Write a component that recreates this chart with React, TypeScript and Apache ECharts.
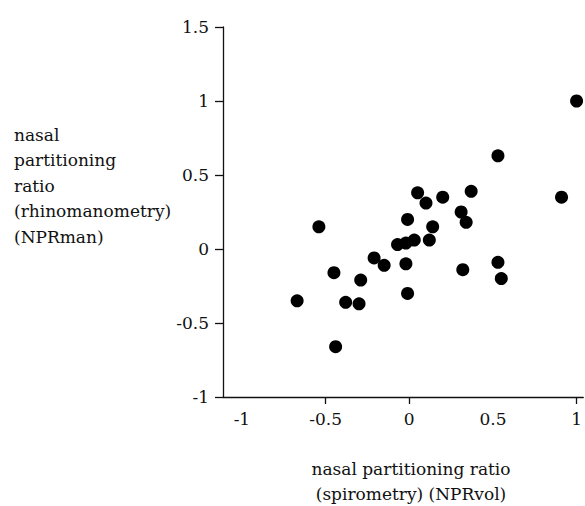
import React, { useEffect, useRef } from "react";
import * as echarts from "echarts";

const npRvol: number[] = [1.0, 0.53, 0.91, 0.05, 0.10, 0.20, 0.37, 0.31, 0.34, -0.01, 0.14, -0.54, -0.07, -0.02, 0.03, 0.12, -0.21, -0.15, -0.02, 0.32, 0.53, 0.55, -0.45, -0.29, -0.67, -0.38, -0.30, -0.01, -0.44];
const npRman: number[] = [1.0, 0.63, 0.35, 0.38, 0.31, 0.35, 0.39, 0.25, 0.18, 0.20, 0.15, 0.15, 0.03, 0.04, 0.06, 0.06, -0.06, -0.11, -0.10, -0.14, -0.09, -0.20, -0.16, -0.21, -0.35, -0.36, -0.37, -0.30, -0.66];

const xLabelValues: number[] = [-1, -0.5, 0, 0.5, 1];
const xTickValues: number[] = [-0.5, 0, 1];

const yAxisTitle: string[] = ["nasal", "partitioning", "ratio", "(rhinomanometry)", "(NPRman)"];
const xAxisTitle: string[] = ["nasal partitioning ratio", "(spirometry) (NPRvol)"];

const FONT = "DejaVu Serif";
const INK = "#111";

export default function App() {
  const ref = useRef<HTMLDivElement>(null);
  useEffect(() => {
    if (!ref.current) return;
    const chart = echarts.init(ref.current, undefined, { renderer: "svg" });
    const data = npRvol.map((x, i) => [x, npRman[i]]);
    chart.setOption({
      animation: false,
      backgroundColor: "#fff",
      grid: { left: 223, top: 27, width: 362, height: 370, containLabel: false },
      xAxis: {
        type: "value",
        min: -1.113,
        max: 1.04,
        splitLine: { show: false },
        axisLine: { onZero: false, lineStyle: { color: INK, width: 1.3 } },
        axisTick: { show: true, length: 7, customValues: xTickValues, lineStyle: { color: INK, width: 1.3 } },
        axisLabel: {
          customValues: xLabelValues,
          fontFamily: FONT,
          fontSize: 17,
          color: INK,
          margin: 13,
          showMaxLabel: true,
          showMinLabel: true,
        },
      },
      yAxis: {
        type: "value",
        min: -1,
        max: 1.5,
        interval: 0.5,
        splitLine: { show: false },
        axisLine: { onZero: false, lineStyle: { color: INK, width: 1.3 } },
        axisTick: { show: true, length: 8, lineStyle: { color: INK, width: 1.3 } },
        axisLabel: { fontFamily: FONT, fontSize: 17, color: INK, margin: 14 },
      },
      graphic: [
        {
          type: "text",
          left: 14,
          top: 122,
          style: {
            text: yAxisTitle.join("\n"),
            font: `17px "${FONT}"`,
            fill: INK,
            lineHeight: 25.5,
            textAlign: "left",
          },
        },
        {
          type: "text",
          x: 411,
          y: 456,
          style: {
            text: xAxisTitle.join("\n"),
            font: `17px "${FONT}"`,
            fill: INK,
            lineHeight: 25,
            textAlign: "center",
            textVerticalAlign: "top",
          },
        },
      ],
      series: [
        {
          type: "scatter",
          data,
          symbol: "circle",
          symbolSize: 13,
          itemStyle: { color: "#000", opacity: 1 },
        },
      ],
    });
    return () => chart.dispose();
  }, []);
  return <div ref={ref} style={{ position: "fixed", left: 0, top: 0, width: 585, height: 506 }} />;
}
